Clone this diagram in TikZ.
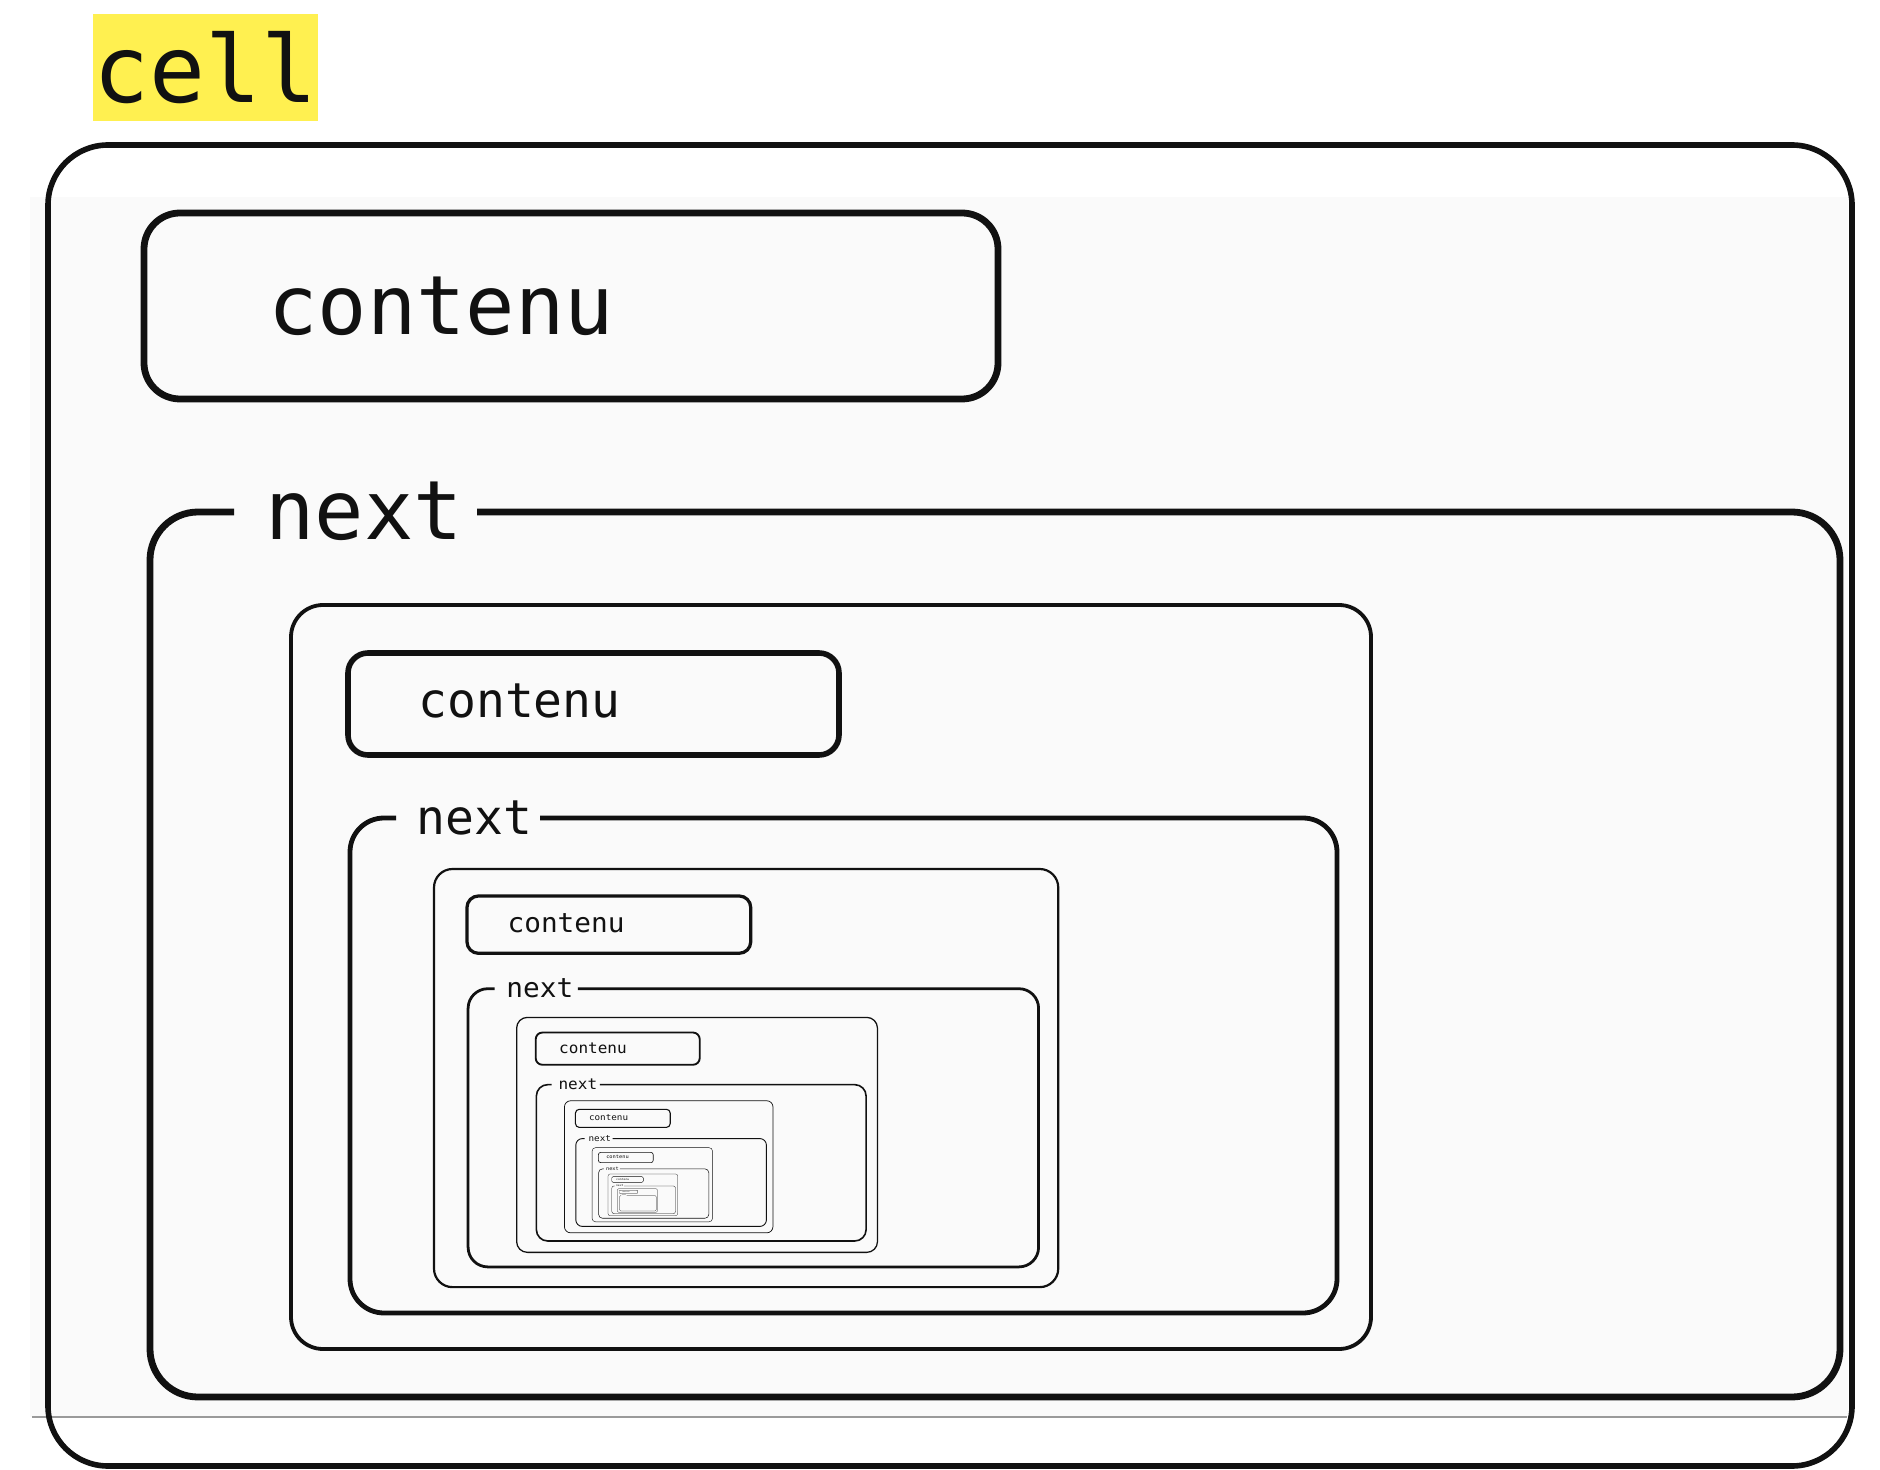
\documentclass[tikz,border=0pt]{standalone}
\usepackage{fontspec}
\setmonofont{DejaVu Sans Mono}
\usepackage{xcolor}
\definecolor{ink}{HTML}{111111}
\definecolor{paper}{HTML}{FAFAFA}
\definecolor{hilite}{HTML}{FFF050}
\definecolor{rulegray}{HTML}{9A9A9A}
\usepackage{tikz}
\usetikzlibrary{positioning}
\tikzset{
  cellframe/.style={draw=ink,line width=#1},
  lbl/.style={font=\ttfamily,text=ink,inner sep=0pt,anchor=base west},
  tag/.style={fill=hilite,text=ink,inner sep=0pt,font=\ttfamily\fontsize{46.5}{46.5}\selectfont}}

\begin{document}
\begin{tikzpicture}[x=0.5pt,y=-0.5pt]
  \useasboundingbox (0,0) rectangle (1880,1470);
  % fond
  \fill[paper] (30,197) rectangle (1848,1417);
  \draw[rulegray,line width=1pt] (32,1417) -- (1847,1417);
  % cellule du haut
  \node[tag,minimum width=112.5pt,minimum height=53.5pt] (cell) at (205.5,67.5) {cell};
  \draw[cellframe=2.8pt,rounded corners=30pt] (48,145) rectangle (1852,1466);
  \draw[cellframe=3.4pt,rounded corners=18pt] (144,213) rectangle (998,399);
  \node[lbl,font=\ttfamily\fontsize{41}{41}\selectfont] (ctn0) at (268,335) {contenu};
  \draw[cellframe=3.4pt,rounded corners=24pt] (477,512) -| (1840,1397) -| (150,512) -- (234,512);
  \node[lbl,font=\ttfamily\fontsize{41}{41}\selectfont] (nxt0) at (265,540) {next};
  % cellules suivantes, de plus en plus petites
  \foreach \n in {1,...,7}{
    \pgfmathsetmacro\sx{0.578^(\n-1)}
    \pgfmathsetmacro\sy{0.562^(\n-1)}
    \pgfmathsetmacro\ox{291+143*(1-\sx)/0.422}
    \pgfmathsetmacro\oy{605+264*(1-\sy)/0.438}
    \begin{scope}[shift={(\ox,\oy)},xscale=\sx,yscale=\sy,transform shape]
      \draw[cellframe=1.9pt*\sx,rounded corners=16pt*\sx] (0,0) rectangle (1080,744);
      \draw[cellframe=2.8pt*\sx,rounded corners=10pt*\sx] (57,48) rectangle (548,150);
      \node[lbl,font=\ttfamily\fontsize{24}{24}\selectfont] (ctn\n) at (127,113) {contenu};
      \draw[cellframe=2.4pt*\sx,rounded corners=17pt*\sx] (249,213) -| (1046,708) -| (59,213) -- (105,213);
      \node[lbl,font=\ttfamily\fontsize{24}{24}\selectfont] (nxt\n) at (125,229) {next};
    \end{scope}
  }
\end{tikzpicture}
\end{document}
